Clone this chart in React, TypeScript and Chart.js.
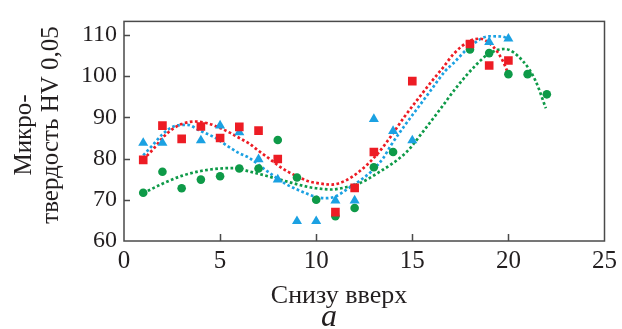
import React, { useEffect, useRef } from "react";
import { Chart, registerables } from "chart.js";

Chart.register(...registerables);

// ---- measured points ----
const redX = [1, 2, 3, 4, 5, 6, 7, 8, 11, 12, 13, 15, 18, 19, 20];
const redY = [79.7, 88, 84.8, 87.8, 85, 87.7, 86.8, 79.9, 67, 72.9, 81.6, 98.8, 107.8, 102.6, 103.8];

const blueX = [1, 2, 4, 5, 6, 7, 8, 9, 10, 11, 12, 13, 14, 15, 19, 20];
const blueY = [83.8, 83.8, 84.4, 88, 86.4, 79.8, 74.9, 64.8, 64.8, 69.8, 69.8, 89.6, 86.7, 84.4, 108.3, 109.1];

const greenX = [1, 2, 3, 4, 5, 6, 7, 8, 9, 10, 11, 12, 13, 14, 18, 19, 20, 21, 22];
const greenY = [71.7, 76.8, 72.8, 74.9, 75.7, 77.6, 77.6, 84.5, 75.4, 70, 66, 68, 77.9, 81.6, 106.5, 105.6, 100.5, 100.5, 95.6];

// ---- trend curves ----
const redTrendX = [1, 1.5, 2, 2.5, 3, 3.7, 4.4, 5, 5.5, 6, 6.5, 7, 7.5, 8, 8.5, 9, 9.6, 10, 10.8, 11.5, 12.2, 13.2, 13.9, 14.6, 15.3, 16, 16.6, 17.15, 18, 18.5, 19.2, 19.7, 20];
const redTrendY = [79.8, 82.2, 85.0, 87.1, 88.4, 89.0, 88.5, 87.4, 86.3, 85.0, 83.7, 81.9, 80.2, 78.4, 76.9, 75.7, 74.5, 74.1, 73.7, 74.6, 76.7, 81.2, 85.5, 90.2, 94.5, 98.7, 102.1, 105.4, 108.6, 109.1, 107.2, 103.8, 100.5];

const blueTrendX = [1, 1.5, 2, 2.7, 3.3, 3.9, 4.8, 5.5, 6, 6.5, 7.4, 8.4, 9.25, 10, 10.5, 11, 11.65, 12.9, 13.5, 13.9, 14.6, 15.3, 16, 16.7, 17.15, 18, 19, 19.7, 20];
const blueTrendY = [80.8, 83.3, 85.9, 88.0, 88.2, 86.9, 84.9, 82.7, 81.3, 80.2, 77.1, 73.9, 72.0, 70.7, 70.4, 70.8, 72.7, 77.0, 80.2, 83.3, 88.0, 92.4, 96.8, 101.2, 103.2, 107.2, 109.7, 109.6, 109.0];

const greenTrendX = [1, 2, 3, 4, 5, 5.8, 6.5, 7.5, 8.5, 9.6, 10, 10.8, 11.5, 12.2, 13.2, 14.7, 15.6, 16.5, 17.3, 18.35, 19, 19.8, 20.75, 21.4, 21.95];
const greenTrendY = [71.6, 73.9, 75.8, 77.0, 77.6, 77.7, 76.9, 75.7, 74.4, 73.1, 72.8, 72.5, 73.0, 73.9, 76.5, 81.6, 86.8, 92.3, 97.3, 102.9, 105.5, 106.6, 103.7, 99.0, 92.2];

const xTicks = [0, 5, 10, 15, 20, 25];
const yTicks = [60, 70, 80, 90, 100, 110];
const yTitle = ["Микро-", "твердость HV 0,05"];
const xTitle = "Снизу вверх";
const panelLabel = "а";

const RED = "#ED1C24";
const BLUE = "#1BA1E2";
const GREEN = "#0E9A48";
const TEXT = "#231F20";
const FRAME = "#4A4A4A";
const FONT = "'Liberation Serif', 'Times New Roman', serif";

const pts = (xs: number[], ys: number[]) => xs.map((x, i) => ({ x, y: ys[i] }));

const framePlugin = {
  id: "frameAndTitles",
  afterDraw(chart: any) {
    const { ctx, chartArea, scales } = chart;
    const { left, right, top, bottom } = chartArea;
    const xs = scales.x;
    const ys = scales.y;
    ctx.save();
    ctx.strokeStyle = FRAME;
    ctx.lineWidth = 1.5;
    ctx.strokeRect(left, top, right - left, bottom - top);
    ctx.beginPath();
    xTicks.forEach((v) => {
      if (v <= xs.min || v >= xs.max) return;
      const px = Math.round(xs.getPixelForValue(v)) + 0.5;
      ctx.moveTo(px, bottom);
      ctx.lineTo(px, bottom - 7);
    });
    yTicks.forEach((v) => {
      if (v <= ys.min || v >= ys.max) return;
      const py = Math.round(ys.getPixelForValue(v)) + 0.5;
      ctx.moveTo(left, py);
      ctx.lineTo(left + 6, py);
    });
    ctx.stroke();

    ctx.fillStyle = TEXT;
    ctx.textAlign = "center";
    ctx.textBaseline = "alphabetic";
    ctx.font = `26px ${FONT}`;
    ctx.fillText(xTitle, 339, 303);
    ctx.font = `italic 32px ${FONT}`;
    ctx.fillText(panelLabel, 329, 326);

    ctx.font = `25px ${FONT}`;
    ctx.save();
    ctx.translate(31, 135);
    ctx.rotate(-Math.PI / 2);
    ctx.fillText(yTitle[0], 0, 0);
    ctx.restore();
    ctx.save();
    ctx.translate(58, 125);
    ctx.rotate(-Math.PI / 2);
    ctx.fillText(yTitle[1], 0, 0);
    ctx.restore();
    ctx.restore();
  },
};

export default function App() {
  const ref = useRef<HTMLCanvasElement | null>(null);
  useEffect(() => {
    if (!ref.current) return;
    const dotted = { borderWidth: 2.7, borderDash: [2.7, 2.4], pointRadius: 0, fill: false, cubicInterpolationMode: "monotone" as const, showLine: true, order: 2 };
    const chart = new Chart(ref.current, {
      type: "line",
      data: {
        datasets: [
          { label: "red", data: pts(redX, redY), showLine: false, pointStyle: "rect", pointRadius: 6.1, backgroundColor: RED, borderColor: RED, borderWidth: 0, order: 1 },
          { label: "blue", data: pts(blueX, blueY), showLine: false, pointStyle: "triangle", pointRadius: 5.8, backgroundColor: BLUE, borderColor: BLUE, borderWidth: 0, order: 1 },
          { label: "green", data: pts(greenX, greenY), showLine: false, pointStyle: "circle", pointRadius: 4.3, backgroundColor: GREEN, borderColor: GREEN, borderWidth: 0, order: 1 },
          { label: "red trend", data: pts(redTrendX, redTrendY), borderColor: RED, ...dotted },
          { label: "blue trend", data: pts(blueTrendX, blueTrendY), borderColor: BLUE, ...dotted },
          { label: "green trend", data: pts(greenTrendX, greenTrendY), borderColor: GREEN, ...dotted },
        ],
      },
      options: {
        animation: false,
        responsive: true,
        maintainAspectRatio: false,
        layout: { padding: { left: 0, right: 15, top: 15, bottom: 0 } },
        plugins: { legend: { display: false }, tooltip: { enabled: false } },
        scales: {
          x: {
            type: "linear",
            min: 0,
            max: 25,
            afterBuildTicks: (s: any) => { s.ticks = xTicks.map((v) => ({ value: v })); },
            ticks: { color: TEXT, font: { family: FONT, size: 25 }, padding: 5, maxRotation: 0 },
            grid: { display: false, drawTicks: false },
            border: { display: false },
            afterFit: (s: any) => { s.height = 88; },
          },
          y: {
            type: "linear",
            min: 60,
            max: 113.3,
            afterBuildTicks: (s: any) => { s.ticks = yTicks.map((v) => ({ value: v })); },
            ticks: { color: TEXT, font: { family: FONT, size: 24 }, padding: 7 },
            grid: { display: false, drawTicks: false },
            border: { display: false },
            afterFit: (s: any) => { s.width = 124; },
          },
        },
      },
      plugins: [framePlugin],
    });
    return () => chart.destroy();
  }, []);
  return (
    <div style={{ position: "fixed", left: 0, top: 0, width: 622, height: 329, background: "#fff" }}>
      <canvas ref={ref} />
    </div>
  );
}
